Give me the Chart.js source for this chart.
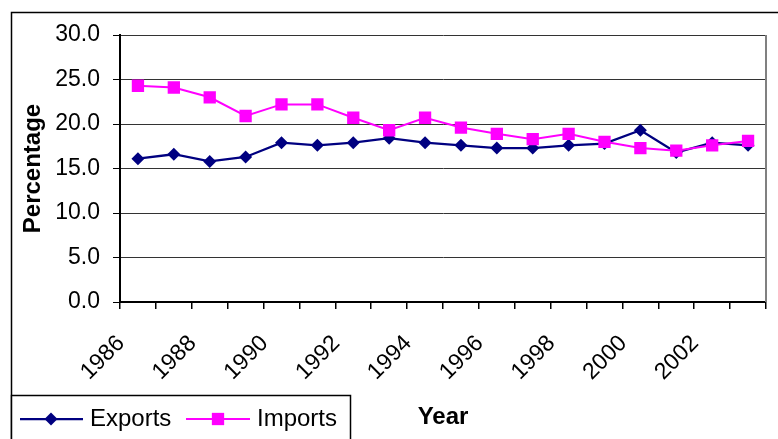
<!DOCTYPE html>
<html>
<head>
<meta charset="utf-8">
<script src="https://cdn.jsdelivr.net/npm/chart.js@4/dist/chart.umd.min.js"></script>
<style>
  html, body { margin: 0; padding: 0; background: #fff; }
  #wrap { width: 778px; height: 439px; position: relative; }
</style>
</head>
<body>
<div id="wrap"><canvas id="c" width="778" height="439"></canvas></div>
<script>
// Trade as a share of output, by year
const years = [1986, 1987, 1988, 1989, 1990, 1991, 1992, 1993, 1994,
               1995, 1996, 1997, 1998, 1999, 2000, 2001, 2002, 2003];
const exportsPct = [16.1, 16.6, 15.8, 16.3, 17.9, 17.6, 17.9, 18.4, 17.9,
                    17.6, 17.3, 17.3, 17.6, 17.8, 19.3, 16.8, 17.9, 17.6];
const importsPct = [24.3, 24.1, 23.0, 20.9, 22.2, 22.2, 20.7, 19.3, 20.7,
                    19.6, 18.9, 18.3, 18.9, 18.0, 17.3, 17.0, 17.6, 18.1];
const seriesNames = ['Exports', 'Imports'];
const yMin = 0, yMax = 30, yStep = 5;

const FONT = '"Liberation Sans", Arial, sans-serif';
const NAVY = '#000080';
const MAGENTA = '#FF00FF';

function drawMarker(ctx, style, x, y, r, color) {
  ctx.save();
  ctx.fillStyle = color;
  ctx.beginPath();
  if (style === 'rectRot') {
    ctx.moveTo(x, y - r); ctx.lineTo(x + r, y); ctx.lineTo(x, y + r); ctx.lineTo(x - r, y);
  } else {
    const s = r * Math.SQRT1_2;
    ctx.rect(x - s, y - s, 2 * s, 2 * s);
  }
  ctx.closePath();
  ctx.fill();
  ctx.restore();
}

// Outer frame, plot-area right edge and the boxed legend
const framePlugin = {
  id: 'framePlugin',
  beforeDraw(chart) {
    const ctx = chart.ctx;
    ctx.save();
    ctx.strokeStyle = '#000';
    ctx.lineWidth = 1.5;
    ctx.beginPath();
    ctx.moveTo(11.5, 450); ctx.lineTo(11.5, 12.5); ctx.lineTo(790, 12.5);
    ctx.stroke();
    ctx.restore();
  },
  afterDraw(chart) {
    const ctx = chart.ctx;
    const a = chart.chartArea;
    ctx.save();
    ctx.strokeStyle = '#808080';
    ctx.lineWidth = 2;
    ctx.beginPath();
    ctx.moveTo(a.right, a.top); ctx.lineTo(a.right, a.bottom);
    ctx.stroke();

    // legend box
    ctx.fillStyle = '#fff';
    ctx.fillRect(11.5, 395.5, 339, 50);
    ctx.strokeStyle = '#000';
    ctx.lineWidth = 1.5;
    ctx.strokeRect(11.5, 395.5, 339, 50);

    const items = [
      { x0: 20, x1: 83, mx: 51, tx: 90 },
      { x0: 186, x1: 250, mx: 218, tx: 257 }
    ];
    const ly = 419;
    chart.data.datasets.forEach((ds, i) => {
      const it = items[i];
      ctx.strokeStyle = ds.borderColor;
      ctx.lineWidth = ds.borderWidth;
      ctx.beginPath();
      ctx.moveTo(it.x0, ly); ctx.lineTo(it.x1, ly);
      ctx.stroke();
      drawMarker(ctx, ds.pointStyle, it.mx, ly, ds.pointRadius, ds.backgroundColor);
      ctx.fillStyle = '#000';
      ctx.font = '24px ' + FONT;
      ctx.textBaseline = 'middle';
      ctx.textAlign = 'left';
      ctx.fillText(ds.label, it.tx, ly);
    });
    ctx.restore();
  }
};

new Chart(document.getElementById('c'), {
  type: 'line',
  data: {
    labels: years,
    datasets: [
      {
        label: seriesNames[0],
        data: exportsPct,
        borderColor: NAVY,
        backgroundColor: NAVY,
        borderWidth: 2.25,
        pointStyle: 'rectRot',
        pointRadius: 6.5,
        pointBorderWidth: 0,
        pointHoverRadius: 6.5,
        tension: 0,
        order: 1
      },
      {
        label: seriesNames[1],
        data: importsPct,
        borderColor: MAGENTA,
        backgroundColor: MAGENTA,
        borderWidth: 2,
        pointStyle: 'rect',
        pointRadius: 8.7,
        pointBorderWidth: 0,
        pointHoverRadius: 8.7,
        tension: 0,
        order: 0
      }
    ]
  },
  options: {
    responsive: false,
    animation: false,
    devicePixelRatio: 1,
    layout: { padding: { left: 15, top: 35, right: 12, bottom: 3 } },
    plugins: {
      legend: { display: false },
      tooltip: { enabled: false }
    },
    scales: {
      x: {
        type: 'category',
        offset: true,
        afterFit(s) {
          s.height = 134;
          s.paddingLeft = 0;
          s.paddingRight = 0;
        },
        grid: {
          offset: true,
          drawOnChartArea: false,
          drawTicks: true,
          tickLength: 7,
          color: '#000',
          lineWidth: 1.5
        },
        border: { display: true, color: '#000', width: 2 },
        ticks: {
          autoSkip: false,
          minRotation: 45,
          maxRotation: 45,
          labelOffset: -17,
          padding: 21,
          color: '#000',
          font: { family: FONT, size: 23 },
          callback(v, i) { return years[i] % 2 === 0 ? String(years[i]) : ''; }
        },
        title: {
          display: true,
          text: 'Year',
          color: '#000',
          font: { family: FONT, size: 24, weight: 'bold' }
        }
      },
      y: {
        min: yMin,
        max: yMax,
        afterFit(s) { s.width = 105; },
        grid: {
          color: '#333',
          lineWidth: 1,
          tickLength: 7,
          tickColor: '#000'
        },
        border: { display: true, color: '#000', width: 2 },
        ticks: {
          stepSize: yStep,
          padding: 13,
          color: '#000',
          font: { family: FONT, size: 23 },
          callback(v) { return Number(v).toFixed(1); }
        },
        title: {
          display: true,
          text: 'Percentage',
          color: '#000',
          font: { family: FONT, size: 24, weight: 'bold' }
        }
      }
    }
  },
  plugins: [framePlugin]
});
</script>
</body>
</html>
